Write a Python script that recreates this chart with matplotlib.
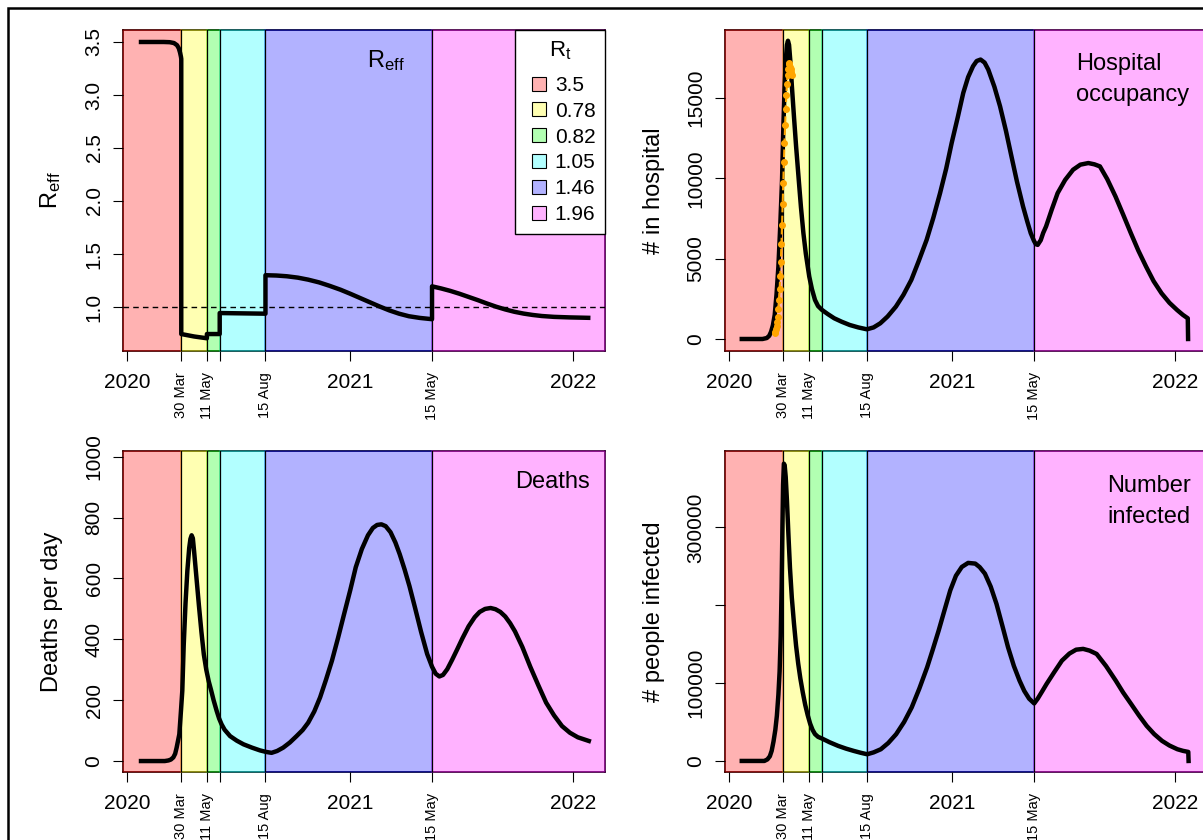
import matplotlib
matplotlib.use("Agg")
import matplotlib.pyplot as plt
from matplotlib.patches import Rectangle
from matplotlib.lines import Line2D
from matplotlib.colors import to_rgba
import pandas as pd

plt.rcParams['font.family'] = ['Liberation Sans', 'DejaVu Sans']
plt.rcParams['mathtext.fontset'] = 'custom'
plt.rcParams['mathtext.rm'] = 'Liberation Sans'
plt.rcParams['mathtext.it'] = 'Liberation Sans:italic'

START = pd.Timestamp("2020-01-01")

# all x values are days since 1 Jan 2020
change_days = [89, 131, 152, 227, 500]
change_labels = ["30 Mar", "11 May", "", "15 Aug", "15 May"]
year_days = [0, 366, 731]
year_labels = ["2020", "2021", "2022"]
rt_values = ["3.5", "0.78", "0.82", "1.05", "1.46", "1.96"]
band_colors = ["#FF0000", "#FFFF00", "#00FF00", "#00FFFF", "#0000FF", "#FF00FF"]
xlim_days = [-6.5, 783.5]

reff_days = [23, 60, 70, 77, 82, 85, 87, 88.5, 89, 89, 110, 131, 131, 152, 152, 227,
             227, 245, 262, 280, 297, 315, 332, 350, 366, 382, 398, 414, 430, 446, 462, 480, 500,
             500, 515, 530, 545, 560, 575, 590, 605, 620, 635, 650, 665, 680, 700, 725, 756]
reff_vals = [3.5, 3.5, 3.498, 3.49, 3.47, 3.44, 3.40, 3.36, 3.34, 0.745, 0.722, 0.705, 0.745,
             0.745, 0.943, 0.937,
             1.30, 1.297, 1.29, 1.277, 1.258, 1.232, 1.2, 1.163, 1.125, 1.085, 1.045, 1.005, 0.968,
             0.937, 0.913, 0.897, 0.885,
             1.195, 1.175, 1.152, 1.125, 1.095, 1.065, 1.033, 1.003, 0.977, 0.955, 0.938, 0.925,
             0.915, 0.907, 0.902, 0.898]

hosp_days = [21, 55, 62, 66, 69, 72, 75, 78, 81, 84, 87, 89, 91, 93, 95, 96.7, 98.5, 101, 103,
             106.5, 110, 114.8, 118, 122, 126, 131.6, 136, 141, 146, 152.5, 162, 172.6, 185, 197.9,
             212, 226, 237, 248, 260, 273.6, 286, 298.9, 311, 324, 335, 346, 356, 365, 375, 384,
             392, 400, 406, 412.4, 419, 425, 435, 444.3, 454, 463, 472, 482, 489, 494.6, 500, 503,
             506, 511, 515, 519.7, 529, 538.7, 551, 564, 576, 589, 599, 608, 620, 633.5, 646,
             658.7, 671, 683.6, 696, 709, 722, 734.4, 744, 752, 752.5]
hosp_vals = [0, 0, 60, 200, 450, 850, 1500, 2800, 4500, 7000, 9900, 13000, 15500, 17300, 18300,
             18560, 18300, 17100, 15800, 13858, 12000, 9703, 8200, 6586, 5300, 3885, 3100, 2431,
             2050, 1808, 1550, 1288, 1070, 873, 720, 603, 720, 977, 1400, 2015, 2750, 3678, 4850,
             6171, 7550, 9080, 10600, 12196, 13800, 15313, 16300, 16975, 17300, 17390, 17200,
             16767, 15700, 14482, 12950, 11365, 9800, 8249, 7300, 6586, 6100, 5900, 5859, 6150,
             6600, 7002, 8050, 9080, 9900, 10534, 10850, 10950, 10870, 10742, 9950, 8872, 7750,
             6586, 5500, 4509, 3600, 2846, 2250, 1808, 1500, 1288, 0]

# observed hospital occupancy
obs_days = list(range(75, 104))
obs_vals = [350, 450, 600, 800, 1050, 1400, 1850, 2400, 3100, 3900, 4800, 5900, 7100, 8400,
            9700, 11000, 12200, 13300, 14300, 15200, 15900, 16400, 16800, 17100, 17200, 16900,
            16600, 16800, 16400]

death_days = [23, 62, 68, 72, 76, 79, 81.4, 85.8, 88.5, 90.7, 93, 96, 99, 102, 104, 106, 108,
              110, 114, 118, 122, 126, 130, 134, 138, 142, 147, 151, 155, 160, 169, 180, 191, 205,
              218, 228, 237, 246, 256, 267, 278, 288, 297, 307, 316.5, 326, 336, 346, 356, 366,
              375, 385, 395, 403, 410, 417, 424, 432, 440, 447, 455, 463, 472, 482, 492, 500, 506,
              512, 518, 525, 533, 541, 550, 560, 570, 578, 587, 596, 604, 612, 620, 628, 636, 648,
              661, 674, 687, 700, 713, 726, 739, 757]
death_vals = [0, 0, 2, 5, 12, 24, 44, 88, 165, 231, 380, 520, 626, 700, 730, 742, 732, 690, 600,
              510, 425, 350, 300, 262, 232, 200, 165, 140, 121, 103, 82, 67, 55, 44, 35, 30, 27,
              33, 44, 61, 82, 102, 126, 163, 209, 266, 330, 405, 484, 562, 637, 697, 742, 766, 776,
              778, 772, 752, 718, 680, 630, 575, 505, 425, 352, 310, 287, 278, 283, 302, 333, 366,
              404, 443, 473, 490, 500, 503, 499, 490, 475, 453, 426, 375, 310, 250, 192, 150, 115,
              93, 78, 66]

inf_days = [21, 58, 63, 67, 70, 73, 76, 78.5, 81, 83, 84.8, 86.3, 87.6, 88.7, 90, 91.3, 93, 95,
            97.5, 100, 103, 106.5, 110, 113.5, 117, 121, 125, 129, 133, 137, 141, 146, 152.5, 165,
            179, 192, 204.5, 216, 226.5, 237, 248.9, 261, 274, 287, 299.5, 312, 324.8, 334, 343.7,
            353, 362.7, 372, 381.6, 392, 403.7, 411, 419.5, 429, 438.4, 448, 457.4, 467, 476.3,
            484, 492, 500.3, 506, 513, 520.5, 533, 545.7, 558, 569, 580.5, 591, 602.6, 618, 634,
            646, 659.3, 672, 684.6, 697, 709.8, 722, 735, 744, 752.8, 753.3]
inf_vals = [0, 0, 2000, 6000, 13000, 25000, 40000, 58000, 85000, 115000, 160000, 223500, 300000,
            355000, 382000, 380000, 365000, 335000, 290000, 248000, 210000, 177000, 148000,
            125000, 106000, 88000, 72000, 59000, 48000, 40000, 34500, 31000, 28800, 24000, 19340,
            15800, 12900, 10500, 8600, 11000, 15040, 23000, 34380, 50000, 68770, 93000, 120340,
            143000, 167600, 193000, 219200, 238000, 249300, 254500, 253600, 249000, 240700,
            224000, 202000, 174000, 146100, 122000, 103150, 90000, 80000, 73900, 80000, 89000,
            98850, 114000, 128900, 138000, 143000, 144000, 141800, 137500, 122000, 103150, 88000,
            73000, 58500, 45100, 34500, 25800, 19800, 15040, 13000, 11600, 0]


def to_date(days):
    return START + pd.to_timedelta(days, unit="D")


W, H = 1203, 840
fig = plt.figure(figsize=(W / 100, H / 100), dpi=100)


def panel(rect, ylim, yticks, yticklabels, ylabel):
    ax = fig.add_axes([rect[0] / W, 1 - rect[3] / H, (rect[2] - rect[0]) / W, (rect[3] - rect[1]) / H])
    ax.set_xlim(to_date(xlim_days[0]), to_date(xlim_days[1]))
    ax.set_ylim(ylim)
    for sp in ax.spines.values():
        sp.set_zorder(0.5)
        sp.set_linewidth(1.2)
    edges = [xlim_days[0]] + change_days + [xlim_days[1]]
    for i, col in enumerate(band_colors):
        ax.axvspan(to_date(edges[i]), to_date(edges[i + 1]), facecolor=col, edgecolor=col,
                   alpha=0.3, lw=1.2, zorder=1, clip_on=False)
    for d in change_days:
        ax.axvline(to_date(d), color="black", lw=0.9, zorder=2)
    ax.set_xticks(to_date(year_days), year_labels)
    ax.set_xticks(to_date(change_days), change_labels, minor=True)
    ax.tick_params(axis="x", which="major", length=7, width=0.8, labelsize=15, pad=9)
    ax.tick_params(axis="x", which="minor", length=7, width=0.8, labelsize=10.5, pad=8,
                   labelrotation=90)
    ax.set_yticks(yticks, yticklabels)
    ax.tick_params(axis="y", length=7, width=0.8, labelsize=15, pad=7, labelrotation=90)
    for lab in ax.get_yticklabels():
        lab.set_va("center")
    ax.set_ylabel(ylabel, fontsize=17)
    ax.yaxis.set_label_coords(-0.125, 0.5)
    return ax


ax1 = panel((123, 30, 605, 351), (0.585, 3.613), [1.0, 1.5, 2.0, 2.5, 3.0, 3.5],
            ["1.0", "1.5", "2.0", "2.5", "3.0", "3.5"], r"R$_{\mathrm{eff}}$")
ax1.axhline(1.0, color="black", lw=1, ls=(0, (4, 3)), zorder=2)
ax1.plot(to_date(reff_days), reff_vals, color="black", lw=3.2, zorder=3)
ax1.text(0.545, 0.905, r"R$_{\mathrm{eff}}$", transform=ax1.transAxes, ha="center", va="center",
         fontsize=17)
handles = [Line2D([], [], ls="none", marker="s", markersize=9.5, markerfacecolor=to_rgba(c, 0.3),
                  markeredgecolor="black", markeredgewidth=0.8) for c in band_colors]
leg = ax1.legend(handles, rt_values, title=r"R$_{\mathrm{t}}$", loc="upper right",
                 bbox_to_anchor=(1, 1), borderaxespad=0, fontsize=15, title_fontsize=16,
                 frameon=True, fancybox=False, edgecolor="black", framealpha=1,
                 handlelength=1.35, handletextpad=0.1, labelspacing=0.33, borderpad=0.45)
leg.get_frame().set_linewidth(1)
leg._legend_box.sep = 10
leg.set_zorder(5)

ax2 = panel((725, 30, 1207, 351), (-747, 19230), [0, 5000, 10000, 15000],
            ["0", "5000", "10000", "15000"], "# in hospital")
ax2.plot(to_date(hosp_days), hosp_vals, color="black", lw=3.2, zorder=3)
ax2.plot(to_date(obs_days), obs_vals, color="orange", lw=1.5, ls="--", marker="o",
         markersize=4, zorder=4)
ax2.text(0.728, 0.928, "Hospital\noccupancy", transform=ax2.transAxes, ha="left", va="top",
         fontsize=17, linespacing=1.5)

ax3 = panel((123, 451, 605, 772), (-36, 1019), [0, 200, 400, 600, 800, 1000],
            ["0", "200", "400", "600", "800", "1000"], "Deaths per day")
ax3.plot(to_date(death_days), death_vals, color="black", lw=3.2, zorder=3)
ax3.text(0.813, 0.903, "Deaths", transform=ax3.transAxes, ha="left", va="center", fontsize=17)

ax4 = panel((725, 451, 1207, 772), (-14200, 398300), [0, 100000, 200000, 300000],
            ["0", "100000", "", "300000"], "# people infected")
ax4.plot(to_date(inf_days), inf_vals, color="black", lw=3.2, zorder=3)
ax4.text(0.7925, 0.925, "Number\ninfected", transform=ax4.transAxes, ha="left", va="top",
         fontsize=17, linespacing=1.5)

# outer frame, cut off on the right and bottom
fig.add_artist(Rectangle((8 / W, -1), 2, 2 - 8 / H, transform=fig.transFigure, fill=False,
                         edgecolor="black", lw=1.8, clip_on=False))

fig.savefig("out.png", dpi=100)
